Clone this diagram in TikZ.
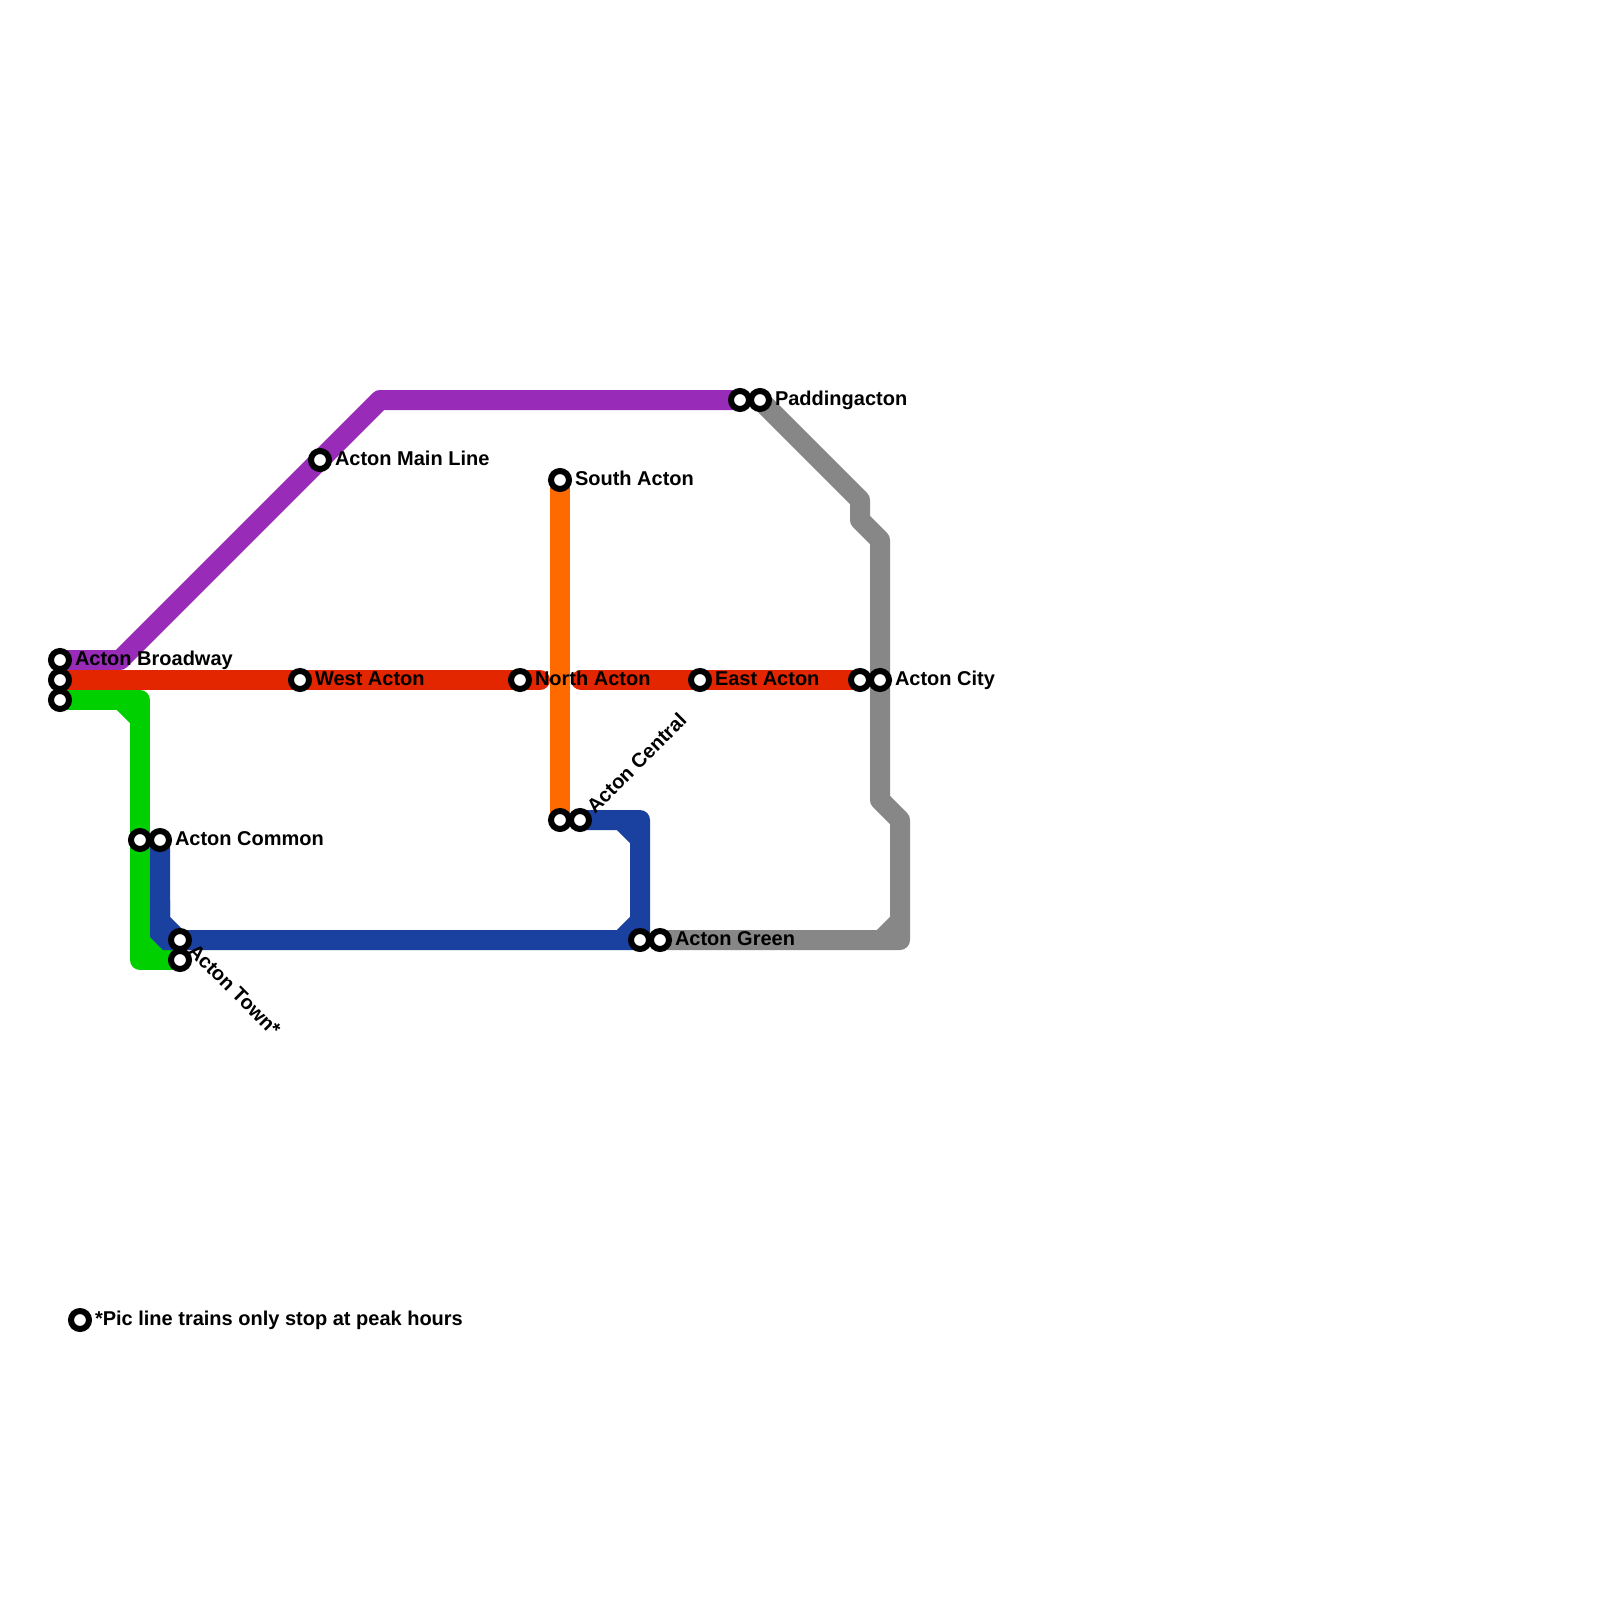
\documentclass[tikz,border=0pt]{standalone}
\usepackage{fontspec}
\setmainfont{Liberation Sans}
\usetikzlibrary{backgrounds}
\definecolor{cpurple}{HTML}{992BB9}
\definecolor{cred}{HTML}{E32600}
\definecolor{cgreen}{HTML}{00D000}
\definecolor{corange}{HTML}{FF6A00}
\definecolor{cblue}{HTML}{1A40A0}
\definecolor{cgrey}{HTML}{878787}
\tikzset{
  x=1bp,y=-1bp,
  stop/.style={circle,draw=black,fill=white,line width=6bp,minimum size=18bp,inner sep=0pt,outer sep=0pt},
  lbl/.style={font=\fontsize{20bp}{24bp}\selectfont\bfseries,text=black,inner sep=0pt,outer sep=0pt,anchor=base west},
  metro/.style={line width=20bp,line join=round,line cap=butt},
  endround/.style={metro,line cap=round}
}
\begin{document}
\begin{tikzpicture}
\useasboundingbox (0,0) rectangle (1600,1600);
% stations
\node[stop] (bway) at (60,660) {};
\node[stop] (bred) at (60,680) {};
\node[stop] (bgrn) at (60,700) {};
\node[stop] (west) at (300,680) {};
\node[stop] (north) at (520,680) {};
\node[stop] (east) at (700,680) {};
\node[stop] (cityr) at (860,680) {};
\node[stop] (cityg) at (880,680) {};
\node[stop] (main) at (320,460) {};
\node[stop] (south) at (560,480) {};
\node[stop] (padp) at (740,400) {};
\node[stop] (padg) at (760,400) {};
\node[stop] (cento) at (560,820) {};
\node[stop] (centb) at (580,820) {};
\node[stop] (grnb) at (640,940) {};
\node[stop] (grng) at (660,940) {};
\node[stop] (comg) at (140,840) {};
\node[stop] (comb) at (160,840) {};
\node[stop] (townb) at (180,940) {};
\node[stop] (towng) at (180,960) {};
\node[stop] (legend) at (80,1320) {};
% labels
\node[lbl] (lbway) at (75,665) {Acton Broadway};
\node[lbl] (lwest) at (315,685) {West Acton};
\node[lbl] (lnorth) at (535,685) {North Acton};
\node[lbl] (least) at (715,685) {East Acton};
\node[lbl] (lcity) at (895,685) {Acton City};
\node[lbl] (lmain) at (335,465) {Acton Main Line};
\node[lbl] (lsouth) at (575,485) {South Acton};
\node[lbl] (lpad) at (775,405) {Paddingacton};
\node[lbl,rotate=45] (lcent) at (595,814.5) {Acton Central};
\node[lbl] (lgrn) at (675,945) {Acton Green};
\node[lbl] (lcom) at (175,845) {Acton Common};
\node[lbl,rotate=-45] (ltown) at (187,952) {Acton Town*};
\node[lbl] (lleg) at (95,1325) {*Pic line trains only stop at peak hours};
% bends
\coordinate (pa) at (120,660);
\coordinate (pb) at (380,400);
\coordinate (ga) at (860,500);
\coordinate (gb) at (860,520);
\coordinate (gc) at (880,540);
\coordinate (gd) at (880,800);
\coordinate (ge) at (900,820);
\coordinate (gf) at (900,940);
\coordinate (gf1) at (900,921);
\coordinate (gf2) at (881,940);
\coordinate (va) at (140,700);
\coordinate (va1) at (121,700);
\coordinate (va2) at (140,719);
\coordinate (vb) at (140,960);
\coordinate (vb1) at (140,941);
\coordinate (vb2) at (159,960);
\coordinate (ba) at (640,820);
\coordinate (ba1) at (621,820);
\coordinate (ba2) at (640,839);
\coordinate (bb) at (640,940);
\coordinate (bb1) at (640,921);
\coordinate (bb2) at (621,940);
\coordinate (bc) at (179,940);
\coordinate (bd) at (160,921);
\coordinate (rl) at (540,680);
\coordinate (rr) at (581,680);
\begin{scope}[on background layer]
\fill[white] (0,0) rectangle (1600,1600);
\draw[metro,cgreen] (bgrn.center) -- (va) -- (vb) -- (towng.center);
\draw[metro,cgreen] (va1) -- (va2);
\draw[metro,cgreen] (vb1) -- (vb2);
\draw[metro,cpurple] (bway.center) -- (pa) -- (pb) -- (padp.center);
\draw[endround,cred] (bred.center) -- (rl);
\draw[endround,cred] (rr) -- (east.center);
\draw[metro,cred] (east.center) -- (cityr.center);
\draw[metro,corange] (south.center) -- (cento.center);
\draw[metro,cblue] (centb.center) -- (ba) -- (bb) -- (bc) -- (bd) -- (comb.center);
\draw[metro,cblue] (ba1) -- (ba2);
\draw[metro,cblue] (bb1) -- (bb2);
\fill[cblue] (150,900) -- (150,937) -- (163,950) -- (190,950) -- (190,930) -- (170,930) -- (170,900) -- cycle;
\draw[metro,cgrey] (padg.center) -- (ga) -- (gb) -- (gc) -- (gd) -- (ge) -- (gf) -- (grng.center);
\draw[metro,cgrey] (gf1) -- (gf2);
\end{scope}
\end{tikzpicture}
\end{document}
